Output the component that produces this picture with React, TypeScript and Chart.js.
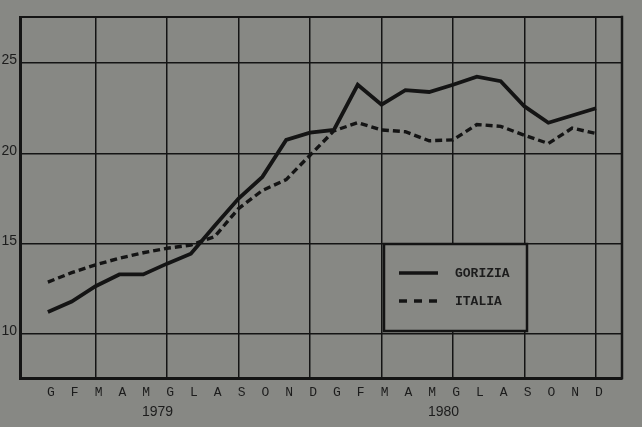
import { useEffect, useRef } from 'react';
import { Chart, registerables } from 'chart.js';

Chart.register(...registerables);

// ---- data ----
const monthLabels = ['G', 'F', 'M', 'A', 'M', 'G', 'L', 'A', 'S', 'O', 'N', 'D', 'G', 'F', 'M', 'A', 'M', 'G', 'L', 'A', 'S', 'O', 'N', 'D'];
const years = ['1979', '1980'];
const seriesNames = ['GORIZIA', 'ITALIA'];
const gorizia = [11.22, 11.8, 12.65, 13.3, 13.3, 13.9, 14.45, 16.0, 17.5, 18.7, 20.75, 21.15, 21.3, 23.8, 22.7, 23.5, 23.4, 23.8, 24.25, 24.0, 22.6, 21.7, 22.1, 22.5];
const italia = [12.88, 13.4, 13.83, 14.2, 14.5, 14.75, 14.93, 15.4, 16.95, 17.95, 18.55, 19.9, 21.25, 21.7, 21.3, 21.2, 20.7, 20.75, 21.6, 21.5, 21.0, 20.55, 21.4, 21.1];
const yTicks = [10, 15, 20, 25];

// ---- style ----
const BG = '#878884';
const INK = '#141414';
const TEXT = '#1c1c1c';

const X_MIN = -1.17;
const X_MAX = 24.09;

const framePlugin = {
  id: 'frame',
  afterDraw(chart: any) {
    const { ctx, chartArea } = chart;
    const { left, right, top, bottom } = chartArea;
    ctx.save();
    ctx.strokeStyle = INK;
    ctx.lineCap = 'square';
    ctx.lineWidth = 2;
    ctx.beginPath();
    ctx.moveTo(left, top);
    ctx.lineTo(right, top);
    ctx.stroke();
    ctx.lineWidth = 2.5;
    ctx.beginPath();
    ctx.moveTo(right, top);
    ctx.lineTo(right, bottom);
    ctx.stroke();
    ctx.restore();
  },
};

const legendPlugin = {
  id: 'boxLegend',
  afterDraw(chart: any) {
    const { ctx } = chart;
    const bx = 384, by = 244, bw = 143, bh = 87;
    ctx.save();
    ctx.fillStyle = BG;
    ctx.fillRect(bx, by, bw, bh);
    ctx.strokeStyle = INK;
    ctx.lineWidth = 2.5;
    ctx.strokeRect(bx, by, bw, bh);
    ctx.lineWidth = 3.5;
    ctx.setLineDash([]);
    ctx.beginPath();
    ctx.moveTo(399, 273);
    ctx.lineTo(438, 273);
    ctx.stroke();
    ctx.setLineDash([8, 7]);
    ctx.beginPath();
    ctx.moveTo(399, 301);
    ctx.lineTo(438, 301);
    ctx.stroke();
    ctx.setLineDash([]);
    ctx.fillStyle = TEXT;
    ctx.font = 'bold 13px "Liberation Mono"';
    ctx.textBaseline = 'middle';
    ctx.textAlign = 'left';
    ctx.fillText(seriesNames[0], 455, 274);
    ctx.fillText(seriesNames[1], 455, 302);
    ctx.restore();
  },
};

export default function App() {
  const ref = useRef<HTMLCanvasElement | null>(null);

  useEffect(() => {
    document.body.style.margin = '0';
    document.body.style.background = BG;
    document.documentElement.style.background = BG;
    const canvas = ref.current;
    if (!canvas) return;
    const chart = new Chart(canvas, {
      type: 'line',
      data: {
        datasets: [
          {
            label: seriesNames[0],
            data: gorizia.map((v, i) => ({ x: i, y: v })),
            borderColor: INK,
            borderWidth: 3.8,
            pointRadius: 0,
            tension: 0,
            fill: false,
          },
          {
            label: seriesNames[1],
            data: italia.map((v, i) => ({ x: i, y: v })),
            borderColor: INK,
            borderWidth: 3.4,
            borderDash: [7, 4],
            pointRadius: 0,
            tension: 0,
            fill: false,
          },
        ],
      },
      options: {
        responsive: false,
        animation: false,
        devicePixelRatio: 1,
        layout: { padding: { top: 17, right: 20, left: 0, bottom: 0 } },
        plugins: {
          legend: { display: false },
          tooltip: { enabled: false },
        },
        scales: {
          x: {
            type: 'linear',
            position: 'bottom',
            weight: 0,
            min: X_MIN,
            max: X_MAX,
            afterBuildTicks: (s: any) => {
              s.ticks = monthLabels.map((_, i) => ({ value: i }));
            },
            afterFit: (s: any) => {
              s.height = 24;
            },
            ticks: {
              autoSkip: false,
              maxRotation: 0,
              minRotation: 0,
              padding: 7,
              labelOffset: 3,
              color: TEXT,
              font: { family: '"Liberation Mono"', size: 13 },
              callback: (_v: any, idx: number) => monthLabels[idx],
            },
            grid: {
              drawTicks: false,
              lineWidth: 1.5,
              color: (ctx: any) => ((ctx.index + 1) % 3 === 0 ? INK : 'rgba(0,0,0,0)'),
            },
            border: { display: true, width: 3, color: INK },
          },
          x2: {
            type: 'linear',
            position: 'bottom',
            weight: 1,
            min: X_MIN,
            max: X_MAX,
            afterBuildTicks: (s: any) => {
              s.ticks = years.map((_, k) => ({ value: k * 12 + 4.6 }));
            },
            afterFit: (s: any) => {
              s.height = 25;
            },
            ticks: {
              autoSkip: false,
              maxRotation: 0,
              padding: 2,
              color: TEXT,
              font: { family: '"Liberation Sans"', size: 14 },
              callback: (_v: any, idx: number) => years[idx],
            },
            grid: { display: false, drawTicks: false },
            border: { display: false },
          },
          y: {
            type: 'linear',
            min: 7.57,
            max: 27.55,
            afterBuildTicks: (s: any) => {
              s.ticks = yTicks.map((v) => ({ value: v }));
            },
            afterFit: (s: any) => {
              s.width = 20;
            },
            ticks: {
              padding: 3,
              labelOffset: -2.5,
              color: TEXT,
              font: { family: '"Liberation Sans"', size: 14 },
              callback: (v: any) => String(v),
            },
            grid: { drawTicks: false, lineWidth: 1.5, color: INK },
            border: { display: true, width: 3, color: INK },
          },
        },
      },
      plugins: [framePlugin, legendPlugin],
    } as any);
    return () => chart.destroy();
  }, []);

  return (
    <div style={{ position: 'fixed', left: 0, top: 0, width: 642, height: 427, background: BG }}>
      <canvas ref={ref} width={642} height={427} style={{ display: 'block', width: 642, height: 427 }} />
    </div>
  );
}
